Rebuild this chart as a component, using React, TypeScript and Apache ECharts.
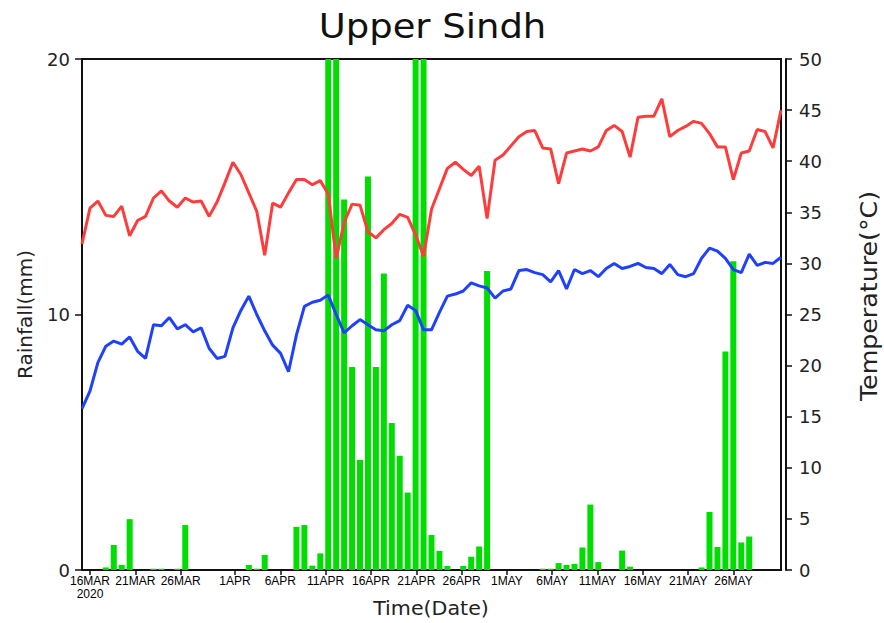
import React, { useEffect, useRef } from "react";
import * as echarts from "echarts";

// Daily rainfall (mm), bars (values above 20 are clipped by the axis)
const rainfall: number[] = [
  0, 0, 0, 0.1, 0.98, 0.2, 1.99, 0, 0, 0.05,
  0.05, 0, 0.05, 1.76, 0, 0, 0, 0, 0, 0,
  0, 0.2, 0.05, 0.59, 0, 0, 0, 1.69, 1.76, 0.17,
  0.65, 26, 24, 14.5, 7.95, 4.31, 15.4, 7.95, 11.6, 5.75,
  4.47, 3.03, 25, 23, 1.37, 0.75, 0.16, 0, 0.16, 0.52,
  0.92, 11.7, 0, 0, 0, 0, 0, 0, 0.05, 0.05,
  0.27, 0.2, 0.24, 0.88, 2.56, 0.31, 0, 0, 0.76, 0.13,
  0, 0, 0, 0, 0, 0, 0, 0, 0.1, 2.27,
  0.9, 8.55, 12.08, 1.08, 1.31, 0, 0, 0, 0,
];

// Maximum temperature (°C), red line
const tmax: number[] = [
  31.9, 35.4, 36.1, 34.7, 34.6, 35.6, 32.7, 34.2, 34.6, 36.4,
  37.1, 36.1, 35.5, 36.4, 36.0, 36.1, 34.6, 36.0, 37.9, 39.9,
  38.7, 36.9, 35.1, 30.8, 35.9, 35.5, 36.9, 38.2, 38.2, 37.7,
  38.1, 36.8, 30.5, 34.0, 35.8, 35.7, 33.1, 32.5, 33.3, 33.9,
  34.8, 34.5, 32.8, 30.7, 35.3, 37.3, 39.3, 39.9, 39.2, 38.6,
  39.5, 34.4, 40.1, 40.6, 41.5, 42.4, 42.9, 43.0, 41.3, 41.2,
  37.8, 40.8, 41.0, 41.2, 41.0, 41.4, 43.0, 43.5, 42.9, 40.4,
  44.3, 44.4, 44.4, 46.1, 42.4, 43.0, 43.4, 43.9, 43.7, 42.7,
  41.4, 41.4, 38.2, 40.8, 41.0, 43.1, 42.9, 41.3, 45.0,
];

// Minimum temperature (°C), blue line
const tmin: number[] = [
  15.8, 17.5, 20.3, 21.9, 22.4, 22.1, 22.8, 21.4, 20.7, 24.0,
  23.9, 24.7, 23.6, 24.0, 23.3, 23.7, 21.7, 20.7, 20.9, 23.7,
  25.4, 26.8, 25.0, 23.4, 22.0, 21.2, 19.4, 23.0, 25.8, 26.2,
  26.4, 26.9, 25.0, 23.2, 23.9, 24.5, 24.0, 23.5, 23.4, 24.0,
  24.4, 25.9, 25.4, 23.5, 23.5, 25.2, 26.8, 27.0, 27.3, 28.1,
  27.8, 27.6, 26.6, 27.3, 27.5, 29.3, 29.4, 29.1, 28.9, 28.2,
  29.3, 27.5, 29.4, 29.0, 29.3, 28.7, 29.5, 30.0, 29.5, 29.7,
  30.0, 29.6, 29.5, 29.0, 29.9, 28.9, 28.7, 29.0, 30.5, 31.5,
  31.2, 30.5, 29.4, 29.1, 30.9, 29.8, 30.1, 30.0, 30.6,
];

// Date tick labels (days after 16 Mar 2020)
const tickDays: number[] = [0, 5, 10, 16, 21, 26, 31, 36, 41, 46, 51, 56, 61, 66, 71];
const tickLabels: string[] = [
  "16MAR\n2020", "21MAR", "26MAR", "1APR", "6APR", "11APR", "16APR", "21APR",
  "26APR", "1MAY", "6MAY", "11MAY", "16MAY", "21MAY", "26MAY",
];

const FONT = "DejaVu Sans";

export default function App() {
  const ref = useRef<HTMLDivElement>(null);

  useEffect(() => {
    if (!ref.current) return;
    const chart = echarts.init(ref.current, null, { renderer: "svg" });
    const labelMap: Record<number, string> = {};
    tickDays.forEach((d, i) => (labelMap[d] = tickLabels[i]));

    const textStyle = (text: string, fontSize: number, fill: string) => ({
      text,
      fontSize,
      fontFamily: FONT,
      fill,
      textAlign: "center",
      textVerticalAlign: "middle",
      align: "center",
      verticalAlign: "middle",
    });

    const option: any = {
      animation: false,
      backgroundColor: "#fff",
      graphic: [
        { type: "text", x: 432.5, y: 26, scaleX: 1.12, style: textStyle("Upper Sindh", 33, "#111") },
        {
          type: "text",
          x: 869,
          y: 296,
          rotation: Math.PI / 2,
          scaleX: 1.1,
          style: textStyle("Temperature(°C)", 23, "#222"),
        },
        { type: "text", x: 431, y: 608, scaleX: 1.03, style: textStyle("Time(Date)", 20, "#222") },
      ],
      grid: {
        left: 82,
        right: 103,
        top: 59,
        bottom: 53,
        show: true,
        borderColor: "#111",
        borderWidth: 2,
        containLabel: false,
        outerBoundsMode: "none",
      },
      xAxis: [
        {
          type: "value",
          min: 0,
          max: 88,
          show: false,
        },
        {
          type: "value",
          min: -0.883,
          max: 76.24,
          position: "bottom",
          axisLine: { show: true, onZero: false, lineStyle: { color: "#111", width: 2 } },
          axisTick: {
            show: true,
            length: 5,
            customValues: tickDays,
            lineStyle: { color: "#111", width: 1.5 },
          },
          axisLabel: {
            customValues: tickDays,
            margin: 4,
            fontFamily: "Liberation Sans",
            fontSize: 12,
            lineHeight: 13,
            color: "#000",
            formatter: (v: number) => labelMap[Math.round(v)] ?? "",
          },
          splitLine: { show: false },
        },
      ],
      yAxis: [
        {
          type: "value",
          min: 0,
          max: 20,
          interval: 10,
          position: "left",
          name: "Rainfall(mm)",
          nameLocation: "middle",
          nameGap: 47,
          nameRotate: 90,
          nameTextStyle: { fontFamily: FONT, fontSize: 20, color: "#222" },
          axisLine: { show: true, onZero: false, lineStyle: { color: "#111", width: 2 } },
          axisTick: { show: true, length: 7, lineStyle: { color: "#111", width: 1.5 } },
          axisLabel: { margin: 12, fontFamily: FONT, fontSize: 18, color: "#222" },
          splitLine: { show: false },
        },
        {
          type: "value",
          min: 0,
          max: 50,
          interval: 5,
          position: "right",
          offset: 5,
          axisLine: { show: true, onZero: false, lineStyle: { color: "#111", width: 2 } },
          axisTick: { show: true, length: 6, lineStyle: { color: "#111", width: 1.5 } },
          axisLabel: { margin: 13, fontFamily: FONT, fontSize: 18, color: "#222" },
          splitLine: { show: false },
        },
      ],
      series: [
        {
          name: "Rainfall",
          type: "bar",
          xAxisIndex: 0,
          yAxisIndex: 0,
          barWidth: 6,
          clip: true,
          itemStyle: { color: "#00dd00" },
          data: rainfall.map((v, i) => [i, v]),
          z: 2,
        },
        {
          name: "Tmax",
          type: "line",
          xAxisIndex: 0,
          yAxisIndex: 1,
          symbol: "none",
          lineStyle: { color: "#ff3c3c", width: 3 },
          data: tmax.map((v, i) => [i, v]),
          z: 3,
        },
        {
          name: "Tmin",
          type: "line",
          xAxisIndex: 0,
          yAxisIndex: 1,
          symbol: "none",
          lineStyle: { color: "#2040ff", width: 3 },
          data: tmin.map((v, i) => [i, v]),
          z: 3,
        },
      ],
    };

    chart.setOption(option);
    return () => chart.dispose();
  }, []);

  return (
    <div
      ref={ref}
      style={{ position: "fixed", left: 0, top: 0, width: 884, height: 623, background: "#fff" }}
    />
  );
}
